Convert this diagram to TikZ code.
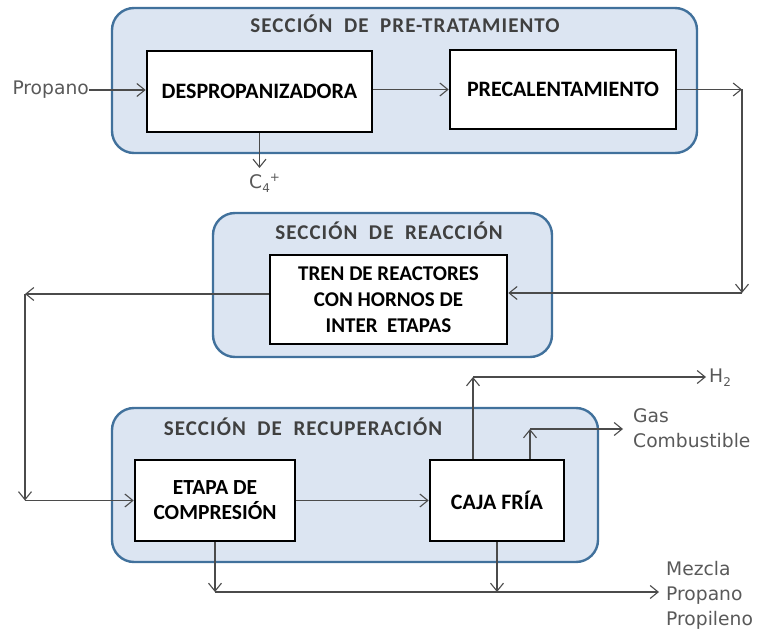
\documentclass[tikz,border=0pt]{standalone}
\usepackage{fontspec}
\setmainfont{Carlito}
\newfontfamily\titlefont[LetterSpace=5]{Carlito}
\newfontfamily\labelfont{DejaVu Sans}
\usetikzlibrary{arrows.meta}
\definecolor{secblue}{RGB}{65,113,156}
\definecolor{secfill}{RGB}{220,229,242}
\definecolor{linegray}{RGB}{75,75,75}
\definecolor{titlegray}{RGB}{64,64,64}
\definecolor{labgray}{RGB}{89,89,89}
\tikzset{
  section/.style={draw=secblue, fill=secfill, line width=2.4pt, rounded corners=22pt, inner sep=0pt},
  procbox/.style={draw=black, fill=white, line width=2.6pt, inner sep=0pt, align=center,
    font=\fontsize{22}{26}\selectfont\bfseries, text=black},
  sectitle/.style={font=\titlefont\fontsize{21}{24}\selectfont\bfseries, text=titlegray, inner sep=0pt},
  lab/.style={font=\labelfont\fontsize{18.7}{25}\selectfont, text=labgray, inner sep=0pt, align=left},
  arr/.style={draw=linegray, line width=1.1pt, -{Straight Barb[length=8pt,width=13pt]}},
}
\begin{document}
\begin{tikzpicture}[x=1pt,y=-1pt]
\useasboundingbox (0,0) rectangle (758,631);
% sections
\node[section, minimum width=585pt, minimum height=145pt] (pre) at (404.5,80.5) {};
\node[section, minimum width=339pt, minimum height=144pt] (reac) at (382.5,285) {};
\node[section, minimum width=486pt, minimum height=154pt] (rec) at (355,485) {};
% titles
\node[sectitle] (tpre) at (405,24) {SECCIÓN\ \ DE\ \ PRE-TRATAMIENTO};
\node[sectitle] (treac) at (389,231) {SECCIÓN\ \ DE\ \ REACCIÓN};
\node[sectitle] (trec) at (303,427) {SECCIÓN\ \ DE\ \ RECUPERACIÓN};
% process boxes
\node[procbox, minimum width=225pt, minimum height=81pt] (desp) at (259.5,91.5) {DESPROPANIZADORA};
\node[procbox, minimum width=226pt, minimum height=79pt] (prec) at (563,89.5) {PRECALENTAMIENTO};
\node[procbox, minimum width=237pt, minimum height=89pt, font=\fontsize{21}{26}\selectfont\bfseries] (tren) at (388.5,299.5) {TREN DE REACTORES\\CON HORNOS DE\\INTER\ \ ETAPAS};
\node[procbox, minimum width=160pt, minimum height=81pt, font=\fontsize{21.5}{25}\selectfont\bfseries] (etapa) at (215,500.5) {ETAPA DE\\COMPRESIÓN};
\node[procbox, minimum width=134pt, minimum height=81pt] (caja) at (497,500.5) {CAJA FRÍA};
% labels
\node[lab, anchor=east] (prop) at (89,90) {Propano};
\node[lab, anchor=west] (c4) at (249,183) {C\raisebox{-0.4ex}{\fontsize{12}{12}\selectfont 4}\raisebox{0.65ex}{\fontsize{12}{12}\selectfont +}};
\node[lab, anchor=west] (h2) at (709,378) {H\raisebox{-0.4ex}{\fontsize{12}{12}\selectfont 2}};
\node[lab, anchor=west] (gas) at (633,428.5) {Gas\\Combustible};
\node[lab, anchor=west] (mez) at (666,595) {Mezcla\\Propano\\Propileno};
% coordinates
\coordinate (c4t) at (259.5,168);
\coordinate (r1) at (742,89.5);
\coordinate (r2) at (742,293);
\coordinate (l1) at (25,294);
\coordinate (l2) at (25,500.5);
\coordinate (h1) at (473,377);
\coordinate (h2e) at (706,377);
\coordinate (g1) at (530,429);
\coordinate (g2) at (623,429);
\coordinate (b1) at (215,592);
\coordinate (b2) at (497,592);
\coordinate (b3) at (659,592);
% connectors
\draw[arr] (prop.east) -- (prop.east -| desp.west);
\draw[arr] (desp.east |- prec.west) -- (prec.west);
\draw[arr] (desp.south) -- (c4t);
\draw[arr] (prec.east) -- (r1);
\draw[arr] (r1) -- (r2);
\draw[arr] (r2) -- (r2 -| tren.east);
\draw[arr] (l1 -| tren.west) -- (l1);
\draw[arr] (l1) -- (l2);
\draw[arr] (l2) -- (etapa.west);
\draw[arr] (etapa.east) -- (caja.west);
\draw[arr] (h1 |- caja.north) -- (h1);
\draw[arr] (h1) -- (h2e);
\draw[arr] (g1 |- caja.north) -- (g1);
\draw[arr] (g1) -- (g2);
\draw[arr] (etapa.south) -- (b1);
\draw[arr] (b1) -- (b3);
\draw[arr] (caja.south) -- (b2);
\end{tikzpicture}
\end{document}
